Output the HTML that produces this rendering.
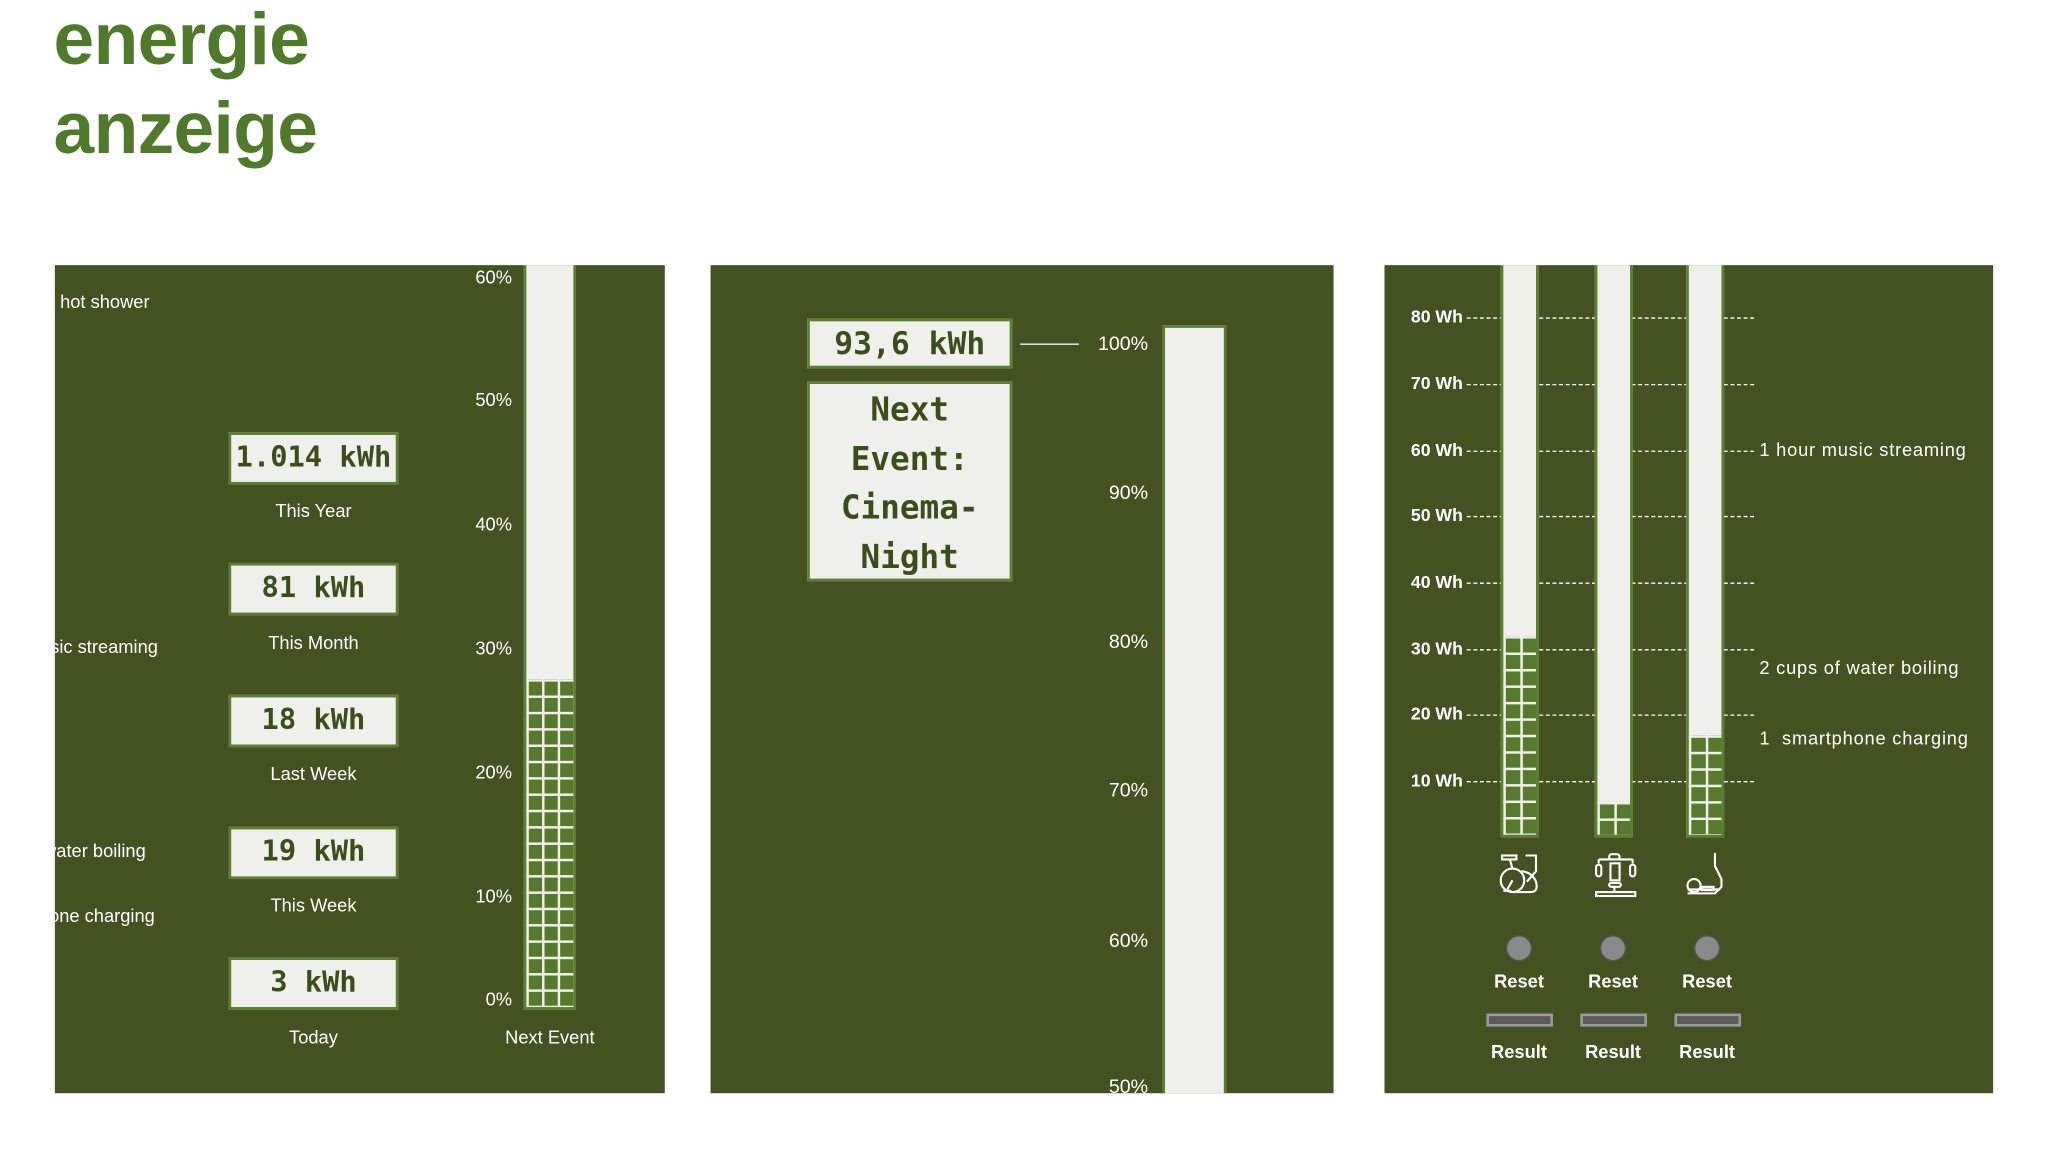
<!DOCTYPE html>
<html><head><meta charset="utf-8"><style>
html,body{margin:0;padding:0;background:#fff;width:2048px;height:1151px;overflow:hidden}
#c{position:absolute;left:0;top:0;width:1568px;height:882px;transform:scale(1.30612);transform-origin:0 0;font-family:"Liberation Sans",sans-serif}
.t{position:absolute;left:41px;font-size:56px;font-weight:bold;color:#4f7a2a;letter-spacing:-0.5px;line-height:1}
.p{position:absolute;background:#435220;overflow:hidden;top:203px;height:634px}
.l{position:absolute;color:#fff;font-size:14px;white-space:nowrap;line-height:1}
.r{text-align:right;width:60px}
.c{text-align:center;width:140px}
.b{position:absolute;background:#efefec;border:2px solid #5a7f2e;box-sizing:border-box;color:#3b4e1a;font-family:"DejaVu Sans Mono","Liberation Mono",monospace;font-weight:bold;text-align:center}
.bar{position:absolute;background:#efefec;border:2px solid #5a7f2e;box-sizing:border-box}
.g{position:absolute;left:0;right:0;bottom:0;background-color:#56792c;background-image:linear-gradient(to right,#efefec 2px,transparent 2px),linear-gradient(to bottom,#efefec 2px,transparent 2px)}
.d{position:absolute;left:63px;width:220px;border-top:1.5px dashed #fff;height:0}
.dot{position:absolute;width:20px;height:20px;border-radius:50%;background:#8a8a8a;border:1px solid #555;box-sizing:border-box}
.res{position:absolute;width:51px;height:10px;background:#5a5a5a;border:2px solid #9a9a9a;box-sizing:border-box}
</style></head><body><div id="c">
<div class="t" style="top:2px">energie</div>
<div class="t" style="top:70px">anzeige</div>

<div class="p" style="left:42px;width:467px">
  <div class="l" style="left:4px;top:21px">hot shower</div>
  <div class="l" style="left:-23px;top:285px">music streaming</div>
  <div class="l" style="left:-9px;top:441px">water boiling</div>
  <div class="l" style="left:-20px;top:491px">phone charging</div>
  <div class="b" style="left:133px;top:128px;width:130px;height:40px;font-size:22px;line-height:36px">1.014 kWh</div>
  <div class="l c" style="left:128px;top:181px">This Year</div>
  <div class="b" style="left:133px;top:228px;width:130px;height:40px;font-size:22px;line-height:36px">81 kWh</div>
  <div class="l c" style="left:128px;top:282px">This Month</div>
  <div class="b" style="left:133px;top:329px;width:130px;height:40px;font-size:22px;line-height:36px">18 kWh</div>
  <div class="l c" style="left:128px;top:382px">Last Week</div>
  <div class="b" style="left:133px;top:430px;width:130px;height:40px;font-size:22px;line-height:36px">19 kWh</div>
  <div class="l c" style="left:128px;top:483px">This Week</div>
  <div class="b" style="left:133px;top:530px;width:130px;height:40px;font-size:22px;line-height:36px">3 kWh</div>
  <div class="l c" style="left:128px;top:584px">Today</div>
  <div class="l r" style="left:290px;top:2px">60%</div>
  <div class="l r" style="left:290px;top:96px">50%</div>
  <div class="l r" style="left:290px;top:191px">40%</div>
  <div class="l r" style="left:290px;top:286px">30%</div>
  <div class="l r" style="left:290px;top:381px">20%</div>
  <div class="l r" style="left:290px;top:476px">10%</div>
  <div class="l r" style="left:290px;top:555px">0%</div>
  <div class="l c" style="left:309px;top:584px">Next Event</div>
  <div class="bar" style="left:359px;top:-4px;width:40px;height:574px"><div class="g" style="height:251px;background-size:12px 12.5px"></div></div>
</div>

<div class="p" style="left:544px;width:477px">
  <div class="b" style="left:74px;top:41px;width:157px;height:38px;font-size:24px;line-height:34px">93,6 kWh</div>
  <div class="b" style="left:74px;top:89px;width:157px;height:153px;font-size:25px;line-height:37.5px;padding-top:1px">Next<br>Event:<br>Cinema-<br>Night</div>
  <div style="position:absolute;left:237px;top:60px;width:45px;border-top:1.5px solid #fff"></div>
  <div class="l r" style="left:275px;top:53px;font-size:15px">100%</div>
  <div class="l r" style="left:275px;top:167px;font-size:15px">90%</div>
  <div class="l r" style="left:275px;top:281px;font-size:15px">80%</div>
  <div class="l r" style="left:275px;top:395px;font-size:15px">70%</div>
  <div class="l r" style="left:275px;top:510px;font-size:15px">60%</div>
  <div class="l r" style="left:275px;top:622px;font-size:15px">50%</div>
  <div class="bar" style="left:346px;top:46px;width:49px;height:600px"></div>
</div>

<div class="p" style="left:1060px;width:466px">
  <div class="d" style="top:40px"></div><div class="d" style="top:91px"></div><div class="d" style="top:142px"></div><div class="d" style="top:192px"></div>
  <div class="d" style="top:243px"></div><div class="d" style="top:294px"></div><div class="d" style="top:344px"></div><div class="d" style="top:395px"></div>
  <div class="l r" style="left:0;top:33px;font-weight:bold;font-size:13.5px">80 Wh</div>
  <div class="l r" style="left:0;top:84px;font-weight:bold;font-size:13.5px">70 Wh</div>
  <div class="l r" style="left:0;top:135px;font-weight:bold;font-size:13.5px">60 Wh</div>
  <div class="l r" style="left:0;top:185px;font-weight:bold;font-size:13.5px">50 Wh</div>
  <div class="l r" style="left:0;top:236px;font-weight:bold;font-size:13.5px">40 Wh</div>
  <div class="l r" style="left:0;top:287px;font-weight:bold;font-size:13.5px">30 Wh</div>
  <div class="l r" style="left:0;top:337px;font-weight:bold;font-size:13.5px">20 Wh</div>
  <div class="l r" style="left:0;top:388px;font-weight:bold;font-size:13.5px">10 Wh</div>
  <div class="bar" style="left:89px;top:-4px;width:29px;height:442px"><div class="g" style="height:152px;background-size:13px 12.6px"></div></div>
  <div class="bar" style="left:161px;top:-4px;width:29px;height:442px"><div class="g" style="height:25px;background-size:13px 12.6px"></div></div>
  <div class="bar" style="left:231px;top:-4px;width:29px;height:442px"><div class="g" style="height:76px;background-size:13px 12.6px"></div></div>
  <div class="l" style="left:287px;top:134px;letter-spacing:0.6px">1 hour music streaming</div>
  <div class="l" style="left:287px;top:301px;letter-spacing:0.6px">2 cups of water boiling</div>
  <div class="l" style="left:287px;top:355px;letter-spacing:0.6px">1&nbsp; smartphone charging</div>
  <svg style="position:absolute;left:85px;top:448px" width="40" height="40" viewBox="0 0 40 40" fill="none" stroke="#fff" stroke-width="1.6">
    <rect x="5" y="4" width="11" height="3"/><path d="M11 7 L13 14"/><circle cx="13" cy="23" r="9"/><path d="M13 23 L9 30 M6 31 L12 31"/><path d="M23 4 L31 4 L31 16 L24 24"/><path d="M13 32 L27 32 Q33 32 31 24 Q28 17 20 16"/>
  </svg>
  <svg style="position:absolute;left:157px;top:448px" width="40" height="40" viewBox="0 0 40 40" fill="none" stroke="#fff" stroke-width="1.6">
    <rect x="15" y="3" width="8" height="4" rx="2"/><path d="M7 7 L7 10 M33 7 L33 10 M7 7 L33 7"/><rect x="5" y="11" width="4" height="9" rx="2"/><rect x="31" y="11" width="4" height="9" rx="2"/><rect x="16" y="10" width="7" height="13"/><rect x="15" y="25" width="9" height="3" rx="1.5"/><path d="M19 28 L19 32"/><rect x="5" y="32" width="30" height="3"/>
  </svg>
  <svg style="position:absolute;left:227px;top:448px" width="40" height="40" viewBox="0 0 40 40" fill="none" stroke="#fff" stroke-width="1.6">
    <path d="M26 2 L26 12 L31 22 L31 28 L26 33 L5 33"/><circle cx="10" cy="27" r="5"/><rect x="16" y="28" width="9" height="2.5"/><path d="M5 30 L30 30"/>
  </svg>
  <div class="dot" style="left:93px;top:513px"></div><div class="dot" style="left:165px;top:513px"></div><div class="dot" style="left:237px;top:513px"></div>
  <div class="l c" style="left:33px;top:541px;font-weight:bold">Reset</div>
  <div class="l c" style="left:105px;top:541px;font-weight:bold">Reset</div>
  <div class="l c" style="left:177px;top:541px;font-weight:bold">Reset</div>
  <div class="res" style="left:78px;top:573px"></div><div class="res" style="left:150px;top:573px"></div><div class="res" style="left:222px;top:573px"></div>
  <div class="l c" style="left:33px;top:595px;font-weight:bold">Result</div>
  <div class="l c" style="left:105px;top:595px;font-weight:bold">Result</div>
  <div class="l c" style="left:177px;top:595px;font-weight:bold">Result</div>
</div>
</div></body></html>
